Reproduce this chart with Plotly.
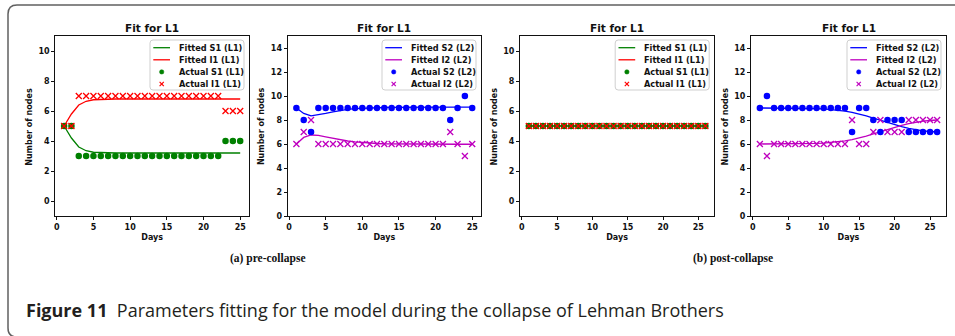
import plotly.graph_objects as go

W, H = 955, 336

# ---------------- data ----------------
days_pre = [1, 2, 3, 4, 5, 6, 7, 8, 9, 10, 11, 12, 13, 14, 15, 16, 17, 18, 19, 20, 21, 22, 23, 24, 25]
days_post = [1, 2, 3, 4, 5, 6, 7, 8, 9, 10, 11, 12, 13, 14, 15, 16, 17, 18, 19, 20, 21, 22, 23, 24, 25, 26]

# (a) pre-collapse, layer L1
pre_s1_actual = [5, 5, 3, 3, 3, 3, 3, 3, 3, 3, 3, 3, 3, 3, 3, 3, 3, 3, 3, 3, 3, 3, 4, 4, 4]
pre_i1_actual = [5, 5, 7, 7, 7, 7, 7, 7, 7, 7, 7, 7, 7, 7, 7, 7, 7, 7, 7, 7, 7, 7, 6, 6, 6]
pre_s1_fit = [5.0, 4.2, 3.6, 3.35, 3.25, 3.22, 3.21, 3.2, 3.2, 3.2, 3.2, 3.2, 3.2, 3.2, 3.2, 3.2, 3.2,
              3.2, 3.2, 3.2, 3.2, 3.2, 3.2, 3.2, 3.2]
pre_i1_fit = [5.0, 5.8, 6.4, 6.65, 6.75, 6.78, 6.79, 6.8, 6.8, 6.8, 6.8, 6.8, 6.8, 6.8, 6.8, 6.8, 6.8,
              6.8, 6.8, 6.8, 6.8, 6.8, 6.8, 6.8, 6.8]

# (a) pre-collapse, layer L2
pre_s2_actual = [9, 8, 7, 9, 9, 9, 9, 9, 9, 9, 9, 9, 9, 9, 9, 9, 9, 9, 9, 9, 9, 8, 9, 10, 9]
pre_i2_actual = [6, 7, 8, 6, 6, 6, 6, 6, 6, 6, 6, 6, 6, 6, 6, 6, 6, 6, 6, 6, 6, 7, 6, 5, 6]
pre_s2_fit = [9.0, 8.55, 8.35, 8.42, 8.55, 8.68, 8.8, 8.88, 8.94, 8.98, 9.01, 9.03, 9.04, 9.05, 9.06,
              9.06, 9.07, 9.07, 9.07, 9.08, 9.08, 9.08, 9.08, 9.08, 9.08]
pre_i2_fit = [6.0, 6.55, 6.75, 6.72, 6.6, 6.47, 6.35, 6.25, 6.17, 6.11, 6.07, 6.04, 6.02, 6.01, 6.0,
              6.0, 5.99, 5.99, 5.99, 5.98, 5.98, 5.98, 5.98, 5.98, 5.98]

# (b) post-collapse, layer L1
post_s1_actual = [5, 5, 5, 5, 5, 5, 5, 5, 5, 5, 5, 5, 5, 5, 5, 5, 5, 5, 5, 5, 5, 5, 5, 5, 5, 5]
post_i1_actual = [5, 5, 5, 5, 5, 5, 5, 5, 5, 5, 5, 5, 5, 5, 5, 5, 5, 5, 5, 5, 5, 5, 5, 5, 5, 5]
post_s1_fit = [5, 5, 5, 5, 5, 5, 5, 5, 5, 5, 5, 5, 5, 5, 5, 5, 5, 5, 5, 5, 5, 5, 5, 5, 5, 5]
post_i1_fit = [5, 5, 5, 5, 5, 5, 5, 5, 5, 5, 5, 5, 5, 5, 5, 5, 5, 5, 5, 5, 5, 5, 5, 5, 5, 5]

# (b) post-collapse, layer L2
post_s2_actual = [9, 10, 9, 9, 9, 9, 9, 9, 9, 9, 9, 9, 9, 7, 9, 9, 8, 7, 8, 8, 8, 7, 7, 7, 7, 7]
post_i2_actual = [6, 5, 6, 6, 6, 6, 6, 6, 6, 6, 6, 6, 6, 8, 6, 6, 7, 8, 7, 7, 7, 8, 8, 8, 8, 8]
post_s2_fit = [9.0, 9.0, 9.0, 9.0, 9.0, 8.99, 8.98, 8.97, 8.95, 8.93, 8.88, 8.82, 8.74, 8.63, 8.5,
               8.34, 8.16, 7.97, 7.78, 7.6, 7.44, 7.3, 7.19, 7.1, 7.04, 7.0]
post_i2_fit = [6.0, 6.0, 6.0, 6.0, 6.0, 6.01, 6.02, 6.03, 6.05, 6.07, 6.12, 6.18, 6.26, 6.37, 6.5,
               6.66, 6.84, 7.03, 7.22, 7.4, 7.56, 7.7, 7.81, 7.9, 7.96, 8.0]

x_ticks = [0, 5, 10, 15, 20, 25]
y_ticks_l1 = [0, 2, 4, 6, 8, 10]
y_ticks_l2 = [0, 2, 4, 6, 8, 10, 12, 14]

panel_title = "Fit for L1"
x_title = "Days"
y_title = "Number of nodes"
labels_l1 = ["Fitted S1 (L1)", "Fitted I1 (L1)", "Actual S1 (L1)", "Actual I1 (L1)"]
labels_l2 = ["Fitted S2 (L2)", "Fitted I2 (L2)", "Actual S2 (L2)", "Actual I2 (L2)"]
sub_captions = ["(a) pre-collapse", "(b) post-collapse"]
caption_bold = "Figure 11"
caption_text = "Parameters fitting for the model during the collapse of Lehman Brothers"

# ---------------- styling ----------------
GREEN = "#008000"
RED = "#ff0000"
BLUE = "#0000ff"
MAGENTA = "#bf00bf"
FONT = "DejaVu Sans"


def X(p):
    return p / W


def Y(p):
    return 1 - p / H


panels = [
    dict(days=days_pre, s_fit=pre_s1_fit, i_fit=pre_i1_fit, s_act=pre_s1_actual, i_act=pre_i1_actual,
         sc=GREEN, ic=RED, labels=labels_l1, xpx=(55.3, 249.0), xr=[-0.2, 26.2], yr=[-1, 11], yt=y_ticks_l1),
    dict(days=days_pre, s_fit=pre_s2_fit, i_fit=pre_i2_fit, s_act=pre_s2_actual, i_act=pre_i2_actual,
         sc=BLUE, ic=MAGENTA, labels=labels_l2, xpx=(287.6, 481.0), xr=[-0.2, 26.2], yr=[0, 15], yt=y_ticks_l2),
    dict(days=days_post, s_fit=post_s1_fit, i_fit=post_i1_fit, s_act=post_s1_actual, i_act=post_i1_actual,
         sc=GREEN, ic=RED, labels=labels_l1, xpx=(520.0, 714.2), xr=[-0.25, 27.25], yr=[-1, 11], yt=y_ticks_l1),
    dict(days=days_post, s_fit=post_s2_fit, i_fit=post_i2_fit, s_act=post_s2_actual, i_act=post_i2_actual,
         sc=BLUE, ic=MAGENTA, labels=labels_l2, xpx=(751.0, 946.0), xr=[-0.25, 27.25], yr=[0, 15], yt=y_ticks_l2),
]

PLOT_TOP, PLOT_BOT = 36.0, 216.0

fig = go.Figure()
annotations = []
shapes = []

tick_font = dict(family=FONT, size=8, color="#111111", weight="bold")
lab_font = dict(family=FONT, size=8, color="#111111", weight="bold")

for k, p in enumerate(panels, start=1):
    xa = "x" if k == 1 else f"x{k}"
    ya = "y" if k == 1 else f"y{k}"
    fig.add_trace(go.Scatter(x=p["days"], y=p["s_fit"], mode="lines", name=p["labels"][0],
                             line=dict(color=p["sc"], width=1.3), xaxis=xa, yaxis=ya, showlegend=False))
    fig.add_trace(go.Scatter(x=p["days"], y=p["i_fit"], mode="lines", name=p["labels"][1],
                             line=dict(color=p["ic"], width=1.3), xaxis=xa, yaxis=ya, showlegend=False))
    fig.add_trace(go.Scatter(x=p["days"], y=p["s_act"], mode="markers", name=p["labels"][2],
                             marker=dict(color=p["sc"], size=6.5, symbol="circle", line=dict(width=0)),
                             xaxis=xa, yaxis=ya, showlegend=False))
    fig.add_trace(go.Scatter(x=p["days"], y=p["i_act"], mode="markers", name=p["labels"][3],
                             marker=dict(color=p["ic"], size=6, symbol="x-thin",
                                         line=dict(color=p["ic"], width=1.3)),
                             xaxis=xa, yaxis=ya, showlegend=False))

    axis_common = dict(showline=True, mirror=True, linecolor="#111111", linewidth=1, ticks="outside",
                       ticklen=3, tickwidth=1, tickcolor="#111111", showgrid=False, zeroline=False,
                       tickfont=tick_font, fixedrange=True, automargin=False)
    fig.update_layout(**{
        ("xaxis" if k == 1 else f"xaxis{k}"): dict(
            domain=[X(p["xpx"][0]), X(p["xpx"][1])], range=p["xr"], anchor=ya, tickvals=x_ticks,
            title=dict(text=x_title, font=lab_font, standoff=3), **axis_common),
        ("yaxis" if k == 1 else f"yaxis{k}"): dict(
            domain=[Y(PLOT_BOT), Y(PLOT_TOP)], range=p["yr"], anchor=xa, tickvals=p["yt"],
            **axis_common),
    })

    # y-axis title placed beside the tick labels
    annotations.append(dict(text=y_title, x=X(p["xpx"][0] - 26), y=Y(126.5), xref="paper", yref="paper",
                            showarrow=False, xanchor="center", yanchor="middle", textangle=-90,
                            font=lab_font))

    cx = (p["xpx"][0] + p["xpx"][1]) / 2
    annotations.append(dict(text=panel_title, x=X(cx), y=Y(27.5), xref="paper", yref="paper",
                            showarrow=False, xanchor="center", yanchor="middle",
                            font=dict(family=FONT, size=10.5, color="#111111", weight="bold")))

    # legend box (upper right), built from layout shapes and text
    lx1 = p["xpx"][1] - 5
    lx0 = lx1 - 94
    ly0, ly1 = 40.0, 90.0
    r = 3
    path = (f"M {X(lx0 + r)},{Y(ly0)} L {X(lx1 - r)},{Y(ly0)} Q {X(lx1)},{Y(ly0)} {X(lx1)},{Y(ly0 + r)} "
            f"L {X(lx1)},{Y(ly1 - r)} Q {X(lx1)},{Y(ly1)} {X(lx1 - r)},{Y(ly1)} "
            f"L {X(lx0 + r)},{Y(ly1)} Q {X(lx0)},{Y(ly1)} {X(lx0)},{Y(ly1 - r)} "
            f"L {X(lx0)},{Y(ly0 + r)} Q {X(lx0)},{Y(ly0)} {X(lx0 + r)},{Y(ly0)} Z")
    shapes.append(dict(type="path", path=path, xref="paper", yref="paper", layer="above",
                       line=dict(color="#cfcfcf", width=1), fillcolor="rgba(255,255,255,0.85)"))
    rows_y = [47.7, 59.8, 71.9, 84.0]
    kinds = [("line", p["sc"]), ("line", p["ic"]), ("dot", p["sc"]), ("x", p["ic"])]
    for (kind, col), yc, lab in zip(kinds, rows_y, p["labels"]):
        sx = lx0 + 11.7
        if kind == "line":
            shapes.append(dict(type="line", xref="paper", yref="paper", layer="above",
                               x0=X(lx0 + 3.3), x1=X(lx0 + 20), y0=Y(yc), y1=Y(yc),
                               line=dict(color=col, width=1.3)))
        elif kind == "dot":
            rr = 2.2
            shapes.append(dict(type="circle", xref="paper", yref="paper", layer="above",
                               x0=X(sx - rr), x1=X(sx + rr), y0=Y(yc + rr), y1=Y(yc - rr),
                               fillcolor=col, line=dict(color=col, width=0.5)))
        else:
            d = 2.1
            shapes.append(dict(type="line", xref="paper", yref="paper", layer="above",
                               x0=X(sx - d), x1=X(sx + d), y0=Y(yc - d), y1=Y(yc + d),
                               line=dict(color=col, width=1.2)))
            shapes.append(dict(type="line", xref="paper", yref="paper", layer="above",
                               x0=X(sx - d), x1=X(sx + d), y0=Y(yc + d), y1=Y(yc - d),
                               line=dict(color=col, width=1.2)))
        annotations.append(dict(text=lab, x=X(lx0 + 26.7), y=Y(yc), xref="paper", yref="paper",
                                showarrow=False, xanchor="left", yanchor="middle",
                                font=dict(family=FONT, size=8.2, color="#111111", weight="bold")))

# sub captions
for txt, cx in zip(sub_captions, [267, 733]):
    annotations.append(dict(text=txt, x=X(cx), y=Y(258), xref="paper", yref="paper", showarrow=False,
                            xanchor="center", yanchor="middle",
                            font=dict(family="Liberation Serif", size=11.5, color="#111111", weight="bold")))

# figure caption
annotations.append(dict(text=f"<b>{caption_bold}</b>&nbsp;&nbsp;{caption_text}", x=X(24), y=Y(309.5),
                        xref="paper", yref="paper", showarrow=False, xanchor="left", yanchor="middle",
                        font=dict(family="Open Sans", size=18, color="#231f20")))

# rounded frame around the figure
frame = (f"M {X(970)},{Y(5)} L {X(17)},{Y(5)} Q {X(8)},{Y(5)} {X(8)},{Y(14)} "
         f"L {X(8)},{Y(328)} Q {X(8)},{Y(337)} {X(17)},{Y(337)} L {X(970)},{Y(337)}")
shapes.append(dict(type="path", path=frame, xref="paper", yref="paper", layer="above",
                   line=dict(color="#606060", width=1.5)))

fig.update_layout(width=W, height=H, autosize=False, margin=dict(l=0, r=0, t=0, b=0, pad=0),
                  paper_bgcolor="white", plot_bgcolor="white", showlegend=False,
                  annotations=annotations, shapes=shapes)

fig.write_html("out.html", config={"displayModeBar": False},
               post_script="document.body.style.margin='0';document.body.style.padding='0';")
